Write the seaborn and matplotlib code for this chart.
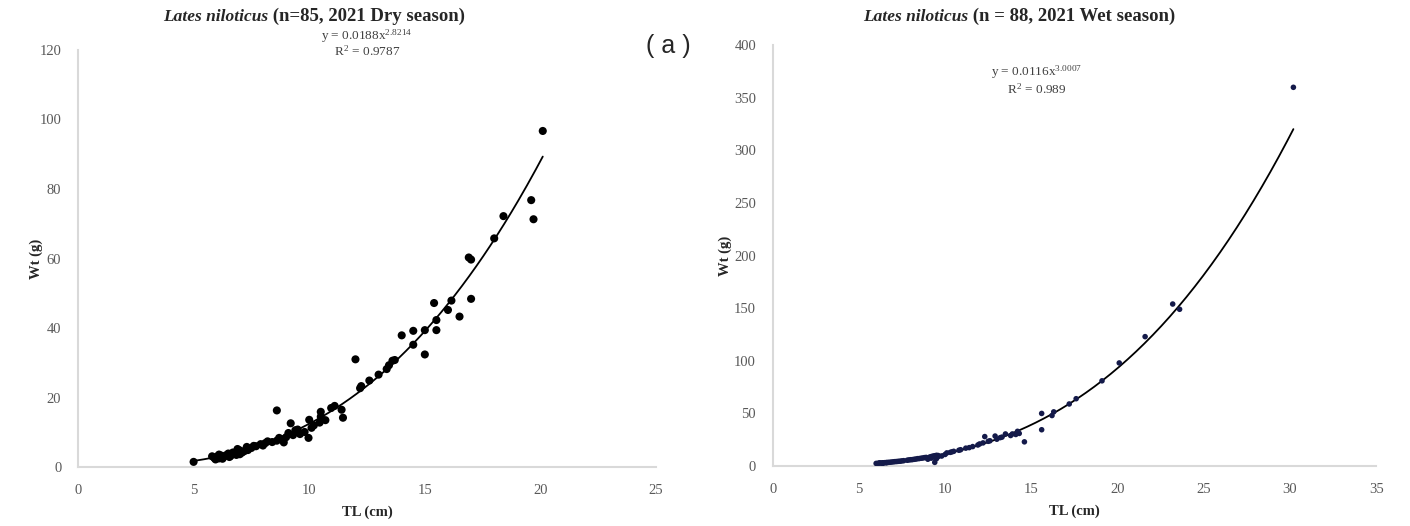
import numpy as np
import pandas as pd
import matplotlib
matplotlib.use("Agg")
import matplotlib.pyplot as plt
import seaborn as sns

# Dry season (left panel), n=85
dry_tl = [20.1, 19.6, 19.7, 18.4, 18.0, 16.9, 17.0, 17.0, 16.15, 16.0,
          15.4, 16.5, 15.5, 15.5, 15.0, 14.5, 14.0, 14.5, 15.0, 13.6,
          13.45, 13.35, 13.0, 12.6, 12.2, 12.0, 11.46, 11.4, 11.1, 10.95,
          10.5, 10.5, 10.45, 10.7, 10.0, 9.97, 9.2, 8.6, 9.5, 9.3,
          9.1, 9.0, 8.8, 8.6, 8.4, 8.1, 7.9, 7.7, 7.5, 7.3,
          7.2, 7.0, 7.0, 6.9, 6.8, 6.7, 6.6, 6.5, 6.4, 6.3,
          6.2, 6.1, 6.0, 5.9, 5.8, 5.0, 9.6, 9.4, 8.9, 8.2,
          7.6, 7.1, 6.85, 6.55, 6.25, 5.95, 10.2, 10.1, 9.8, 8.7,
          8.0, 7.35, 6.1, 12.25, 13.7]
dry_wt = [96.7, 76.8, 71.3, 72.2, 65.8, 60.3, 59.7, 48.4, 47.9, 45.2,
          47.2, 43.3, 42.3, 39.4, 39.4, 39.2, 37.9, 35.2, 32.4, 30.6,
          29.3, 28.2, 26.6, 24.9, 22.7, 31.0, 14.2, 16.5, 17.6, 17.0,
          15.9, 14.5, 12.8, 13.5, 13.6, 8.4, 12.6, 16.3, 10.8, 9.2,
          9.8, 8.6, 8.0, 7.6, 7.2, 6.9, 6.6, 6.0, 5.5, 5.8,
          4.6, 4.8, 3.7, 5.2, 3.9, 4.2, 3.2, 3.9, 3.4, 2.9,
          3.3, 2.5, 3.0, 2.6, 3.1, 1.5, 9.5, 10.6, 7.1, 7.4,
          6.1, 4.2, 3.5, 2.9, 2.4, 2.2, 12.0, 11.3, 10.1, 8.4,
          6.2, 4.9, 3.6, 23.3, 30.8]

# Wet season (right panel), n=88
wet_tl = [30.2, 23.2, 23.6, 21.6, 20.1, 19.1, 17.6, 17.2, 16.3, 16.2,
          15.6, 15.6, 14.6, 14.2, 14.1, 13.8, 13.5, 13.2, 12.9, 12.6,
          12.3, 12.2, 12.0, 11.6, 11.2, 10.8, 10.5, 10.3, 10.1, 10.0,
          9.8, 9.6, 9.5, 9.4, 9.3, 9.2, 9.1, 9.0, 6.0, 6.1,
          6.2, 6.2, 6.3, 6.4, 6.4, 6.5, 6.6, 6.6, 6.7, 6.8,
          6.9, 7.0, 7.1, 7.2, 7.3, 7.5, 7.6, 7.8, 7.9, 8.0,
          8.1, 8.2, 8.3, 8.4, 8.5, 8.6, 8.7, 8.8, 8.9, 9.0,
          9.1, 9.2, 9.3, 9.4, 9.5, 9.6, 9.4, 10.4, 10.9, 11.4,
          11.9, 12.5, 13.0, 13.3, 13.9, 14.3, 6.35, 7.4]
wet_wt = [360, 154, 149, 123, 98, 81, 64, 59, 51.5, 48,
          50, 34.5, 23, 33, 30, 29, 30.5, 27, 28.5, 24,
          28, 22, 21, 18.5, 17, 15, 14, 13, 12.5, 11,
          9.5, 10, 7.0, 8.5, 9.5, 7.5, 8.5, 6.5, 2.5, 2.6,
          2.8, 3.0, 2.9, 3.1, 2.7, 3.2, 3.4, 3.1, 3.5, 3.6,
          3.8, 4.0, 4.2, 4.3, 4.5, 4.9, 5.1, 5.5, 5.8, 6.0,
          6.1, 6.4, 6.6, 7.0, 7.1, 7.4, 7.6, 8.0, 8.2, 7.0,
          8.0, 9.0, 8.8, 3.5, 10.2, 9.0, 9.8, 13.5, 15.5, 17.5,
          20.0, 23.5, 25.5, 27.5, 30.5, 31.0, 2.6, 4.6]

# power trend lines y = a * x^b (from the equations on the chart)
dry_a, dry_b, dry_r2 = 0.0188, 2.8214, 0.9787
wet_a, wet_b, wet_r2 = 0.0116, 3.0007, 0.989

sns.set_theme(style="white")
plt.rcParams["font.family"] = ["Liberation Serif", "DejaVu Serif"]
plt.rcParams["mathtext.fontset"] = "stix"

fig = plt.figure(figsize=(14.1, 5.26), dpi=100)
ax1 = fig.add_axes([0.0553, 0.112, 0.41, 0.793])
ax2 = fig.add_axes([0.548, 0.114, 0.428, 0.80])

grey = "#d9d9d9"
tick_col = "#595959"
eq_col = "#404040"


def style_axes(ax, xmax, xstep, ymax, ystep, ypad):
    ax.set_xlim(0, xmax)
    ax.set_ylim(0, ymax)
    ax.set_xticks(np.arange(0, xmax + 1, xstep))
    ax.set_yticks(np.arange(0, ymax + 1, ystep))
    for side in ["top", "right"]:
        ax.spines[side].set_visible(False)
    for side in ["left", "bottom"]:
        ax.spines[side].set_color(grey)
        ax.spines[side].set_linewidth(1.5)
    ax.tick_params(length=0, labelsize=10.5, colors=tick_col, pad=12)
    ax.set_xlabel("TL (cm)", fontsize=10.5, fontweight="bold", labelpad=6)
    ax.set_ylabel("Wt (g)", fontsize=10.5, fontweight="bold", labelpad=ypad)


def title(x, rest):
    t = fig.text(x, 0.968, "Lates niloticus", fontsize=12.5,
                 fontweight="bold", fontstyle="italic", ha="left", va="center")
    plt.annotate(" " + rest, xy=(1, 0.5), xycoords=t, ha="left", va="center",
                 fontsize=13.5, fontweight="bold")


# left: dry season
dry = pd.DataFrame({"TL": dry_tl, "Wt": dry_wt})
sns.scatterplot(data=dry, x="TL", y="Wt", ax=ax1, color="black", s=34,
                edgecolor="none", zorder=3)
xs = np.linspace(min(dry_tl), max(dry_tl), 200)
sns.lineplot(x=xs, y=dry_a * xs ** dry_b, ax=ax1, color="black", lw=1.3)
style_axes(ax1, 25, 5, 120, 20, -2.5)

# right: wet season
wet = pd.DataFrame({"TL": wet_tl, "Wt": wet_wt})
sns.scatterplot(data=wet, x="TL", y="Wt", ax=ax2, color="#141a4a", s=16,
                edgecolor="none", zorder=3)
xs = np.linspace(min(wet_tl), max(wet_tl), 200)
sns.lineplot(x=xs, y=wet_a * xs ** wet_b, ax=ax2, color="black", lw=1.3)
style_axes(ax2, 35, 5, 400, 50, 1.5)

# titles
title(0.1155, "(n=85, 2021 Dry season)")
title(0.612, "(n = 88, 2021 Wet season)")

# equations
ax1.text(0.5, 1.032, "y = %sx$^{\\mathregular{%s}}$" % (dry_a, dry_b),
         transform=ax1.transAxes, ha="center", va="center", fontsize=9.5,
         color=eq_col)
ax1.text(0.5, 0.994, "R$^{\\mathregular{2}}$ = %s" % dry_r2,
         transform=ax1.transAxes, ha="center", va="center", fontsize=9.5,
         color=eq_col)
ax2.text(0.438, 0.935, "y = %sx$^{\\mathregular{%s}}$" % (wet_a, wet_b),
         transform=ax2.transAxes, ha="center", va="center", fontsize=9.5,
         color=eq_col)
ax2.text(0.438, 0.893, "R$^{\\mathregular{2}}$ = %s" % wet_r2,
         transform=ax2.transAxes, ha="center", va="center", fontsize=9.5,
         color=eq_col)

fig.text(0.474, 0.912, "( a )", fontsize=18, ha="center", va="center",
         family=["Liberation Sans", "DejaVu Sans"])

fig.savefig("out.png", dpi=100)
